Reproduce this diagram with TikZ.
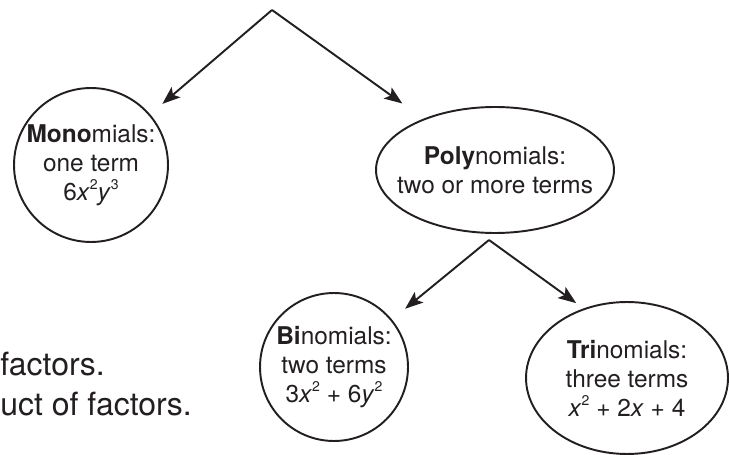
\documentclass[tikz,border=0pt]{standalone}
\usepackage{fontspec}
\setmainfont{TeX Gyre Heros}
\usetikzlibrary{arrows.meta,shapes.geometric}
\definecolor{ink}{HTML}{231F20}
\newcommand{\pw}[2]{\textit{#1}\raisebox{0.85ex}{\fontsize{8pt}{8pt}\selectfont #2}}

\begin{document}
\begin{tikzpicture}[x=0.02cm, y=-0.02cm,
      bubble/.style={draw=ink, line width=1.1pt, ellipse, inner sep=0pt},
      blurb/.style={align=center, inner sep=0pt, text=ink,
                    font=\fontsize{13.9pt}{16.5pt}\selectfont},
      prose/.style={anchor=base west, inner sep=0pt, text=ink,
                    font=\fontsize{18.2pt}{22pt}\selectfont},
      darrow/.style={-{Stealth[length=3.6mm, width=2.7mm, inset=0.8mm]},
                     line width=1.1pt, color=ink},
    ]
      \useasboundingbox (0,0) rectangle (729,455);
      \coordinate (top) at (272,10);
      \node[bubble, minimum width=3.08cm, minimum height=3.08cm] (mono) at (91,165) {};
      \node[bubble, minimum width=4.76cm, minimum height=2.52cm] (poly) at (495,170) {};
      \coordinate (low) at (489,240);
      \node[bubble, minimum width=2.96cm, minimum height=2.96cm] (bi) at (334,367) {};
      \node[bubble, minimum width=4.04cm, minimum height=3.04cm] (tri) at (627,378) {};

      \node[blurb] (monotext) at (mono) {\textbf{Mono}mials:\\one term\\6\pw{x}{2}\pw{y}{3}};
      \node[blurb] (polytext) at (poly) {\textbf{Poly}nomials:\\two or more terms};
      \node[blurb] (bitext) at (bi) {\textbf{Bi}nomials:\\two terms\\3\pw{x}{2} + 6\pw{y}{2}};
      \node[blurb] (tritext) at (tri) {\textbf{Tri}nomials:\\three terms\\\pw{x}{2} + 2\textit{x} + 4};

      \draw[darrow, shorten >=0.32cm] (top) -- (mono);
      \draw[darrow, shorten >=0.52cm] (top) -- (poly);
      \draw[darrow, shorten >=0.34cm] (low) -- (bi);
      \draw[darrow, shorten >=0.18cm] (low) -- (tri.122);

      % cut-off lines of the text beside the tree
      \node[prose] (lineone) at (0,375) {factors.};
      \node[prose] (linetwo) at (0,415) {uct of factors.};
    \end{tikzpicture}
\end{document}
